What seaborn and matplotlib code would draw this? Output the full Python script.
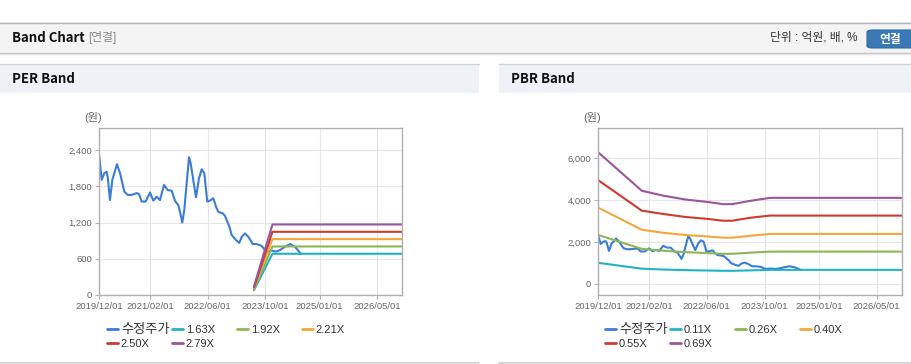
import matplotlib
matplotlib.use("Agg")
import matplotlib.pyplot as plt
import matplotlib.patches as mpatches
import matplotlib.ticker as mticker
import pandas as pd
import seaborn as sns

# ---------------- data ----------------
price_dates = [
    "2019-12-01", "2019-12-21", "2020-01-12", "2020-02-01", "2020-02-10", "2020-02-29",
    "2020-03-20", "2020-04-28", "2020-05-24", "2020-06-29", "2020-07-28", "2020-08-30",
    "2020-10-11", "2020-10-31", "2020-11-23", "2020-12-26", "2021-02-01", "2021-03-01",
    "2021-03-29", "2021-04-26", "2021-05-30", "2021-06-30", "2021-08-03", "2021-08-31",
    "2021-09-28", "2021-10-21", "2021-10-31", "2021-11-17", "2021-12-07", "2021-12-27",
    "2022-01-10", "2022-02-01", "2022-02-24", "2022-03-21", "2022-04-13", "2022-05-05",
    "2022-05-30", "2022-06-22", "2022-07-20", "2022-08-12", "2022-08-31", "2022-10-07",
    "2022-10-27", "2022-12-02", "2022-12-22", "2023-01-28", "2023-02-24", "2023-03-17",
    "2023-04-14", "2023-05-12", "2023-06-17", "2023-07-21", "2023-09-01", "2023-10-08",
    "2023-11-25", "2023-12-31", "2024-02-03", "2024-03-16", "2024-04-27", "2024-06-08",
    "2024-07-12", "2024-07-29",
]
price_values = [
    2300, 1910, 2020, 2045, 1960, 1575,
    1910, 2170, 2020, 1715, 1660, 1660,
    1690, 1675, 1550, 1550, 1700, 1565,
    1630, 1575, 1825, 1740, 1730, 1560,
    1490, 1300, 1200, 1410, 1850, 2285,
    2185, 1905, 1620, 1935, 2085, 2020,
    1550, 1565, 1605, 1465, 1380, 1355,
    1310, 1135, 995, 910, 865, 965,
    1020, 965, 845, 845, 815, 720,
    735, 720, 745, 800, 845, 800,
    720, 680,
]

per_band_dates = ["2023-06-28", "2023-12-01", "2026-11-28"]
per_labels = ["1.63X", "1.92X", "2.21X", "2.50X", "2.79X"]
per_163 = [80, 684, 684]
per_192 = [95, 805, 805]
per_221 = [110, 927, 927]
per_250 = [125, 1048, 1048]
per_279 = [140, 1170, 1170]

pbr_band_dates = ["2019-12-01", "2020-12-01", "2021-06-01", "2021-12-01", "2022-06-01",
                  "2022-10-15", "2023-01-01", "2023-06-01", "2023-11-15", "2026-11-28"]
pbr_labels = ["0.11X", "0.26X", "0.40X", "0.55X", "0.69X"]
pbr_011 = [1010, 730, 690, 660, 645, 630, 630, 650, 675, 675]
pbr_026 = [2340, 1677, 1588, 1520, 1477, 1440, 1440, 1495, 1545, 1545]
pbr_040 = [3640, 2590, 2443, 2338, 2272, 2209, 2209, 2300, 2390, 2390]
pbr_055 = [4950, 3500, 3340, 3200, 3110, 3020, 3020, 3160, 3265, 3265]
pbr_069 = [6280, 4450, 4214, 4033, 3920, 3810, 3810, 3967, 4111, 4111]

x_tick_dates = ["2019-12-01", "2021-02-01", "2022-06-01", "2023-10-01", "2025-01-01", "2026-05-01"]
x_tick_labels = ["2019/12/01", "2021/02/01", "2022/06/01", "2023/10/01", "2025/01/01", "2026/05/01"]
per_yticks = [0, 600, 1200, 1800, 2400]
pbr_yticks = [0, 2000, 4000, 6000]

price_label = "수정주가"
band_colors = ["#22b2c6", "#8db655", "#f3a73a", "#cf3a30", "#9a559e"]
price_color = "#3a7dd6"

# ---------------- style ----------------
sns.set_style("white")
plt.rcParams["font.family"] = ["Liberation Sans", "Noto Sans CJK KR", "DejaVu Sans"]

W, H = 912, 364
fig = plt.figure(figsize=(W / 100, H / 100), dpi=100)
fig.patch.set_facecolor("white")


def fx(x):
    return x / W


def fy(y):
    return 1 - y / H


def rect(x0, y0, x1, y1, color, z=0):
    fig.patches.append(mpatches.Rectangle((fx(x0), fy(y1)), fx(x1) - fx(x0), fy(y0) - fy(y1),
                                          transform=fig.transFigure, facecolor=color,
                                          edgecolor="none", zorder=z))


def hline(x0, x1, y, color, lw=1.0):
    fig.lines.append(plt.Line2D([fx(x0), fx(x1)], [fy(y), fy(y)], transform=fig.transFigure,
                                color=color, lw=lw))


# top header
rect(0, 22, W, 53, "#f4f4f4")
hline(0, W, 22.5, "#b4b4b4")
hline(0, W, 53, "#c4c4c4")
hline(0, W, 54, "#e4e4e4")
fig.text(fx(12), fy(38), "Band Chart", fontsize=9.5, fontweight="bold", color="#111111",
         va="center", ha="left", family=["Noto Sans CJK KR", "DejaVu Sans"])
fig.text(fx(88), fy(38), "[연결]", fontsize=8.5, color="#8a8a8a", va="center", ha="left")
fig.text(fx(770), fy(38), "단위 : 억원, 배, %", fontsize=8.5, color="#333333", va="center", ha="left")
fig.patches.append(mpatches.FancyBboxPatch((fx(867), fy(48)), fx(60), fy(30) - fy(48),
                                           boxstyle="round,pad=0,rounding_size=0.006",
                                           transform=fig.transFigure, facecolor="#3a78b6",
                                           edgecolor="#2e6aa5", lw=0.8))
fig.text(fx(890), fy(39), "연결", fontsize=8.5, fontweight="bold", color="white",
         va="center", ha="center", family=["Noto Sans CJK KR"])

# panel headers
for (px0, px1, title) in [(0, 479, "PER Band"), (499, W, "PBR Band")]:
    rect(px0, 64, px1, 93, "#eef2f7")
    hline(px0, px1, 64, "#d2d2d2")
    hline(px0, px1, 363, "#d0d0d0", lw=1.2)
    fig.text(fx(px0 + 12), fy(79), title, fontsize=9.5, fontweight="bold", color="#111111",
             va="center", ha="left", family=["Noto Sans CJK KR", "DejaVu Sans"])


def setup_axes(ax, ylim, yticks):
    ax.set_xlim(pd.Timestamp("2019-12-01"), pd.Timestamp("2026-11-28"))
    ax.set_ylim(*ylim)
    ax.set_xticks(pd.to_datetime(x_tick_dates))
    ax.set_xticklabels(x_tick_labels)
    ax.set_yticks(yticks)
    ax.yaxis.set_major_formatter(mticker.FuncFormatter(lambda v, p: f"{int(v):,}"))
    ax.grid(True, color="#e6e6e6", lw=0.8)
    ax.set_axisbelow(True)
    for s in ax.spines.values():
        s.set_visible(True)
        s.set_color("#b0b0b0")
        s.set_linewidth(1.0)
    ax.tick_params(axis="both", length=3, width=0.8, color="#b0b0b0", labelsize=6.8,
                   labelcolor="#666666", pad=2, direction="out", bottom=True, left=True)
    ax.set_xlabel("")
    ax.set_ylabel("")


def draw_panel(ax, band_dates, bands, labels, ylim, yticks, leg_x0):
    pdates = pd.to_datetime(price_dates)
    sns.lineplot(x=pdates, y=price_values, ax=ax, color=price_color, lw=1.5,
                 label=price_label, estimator=None, sort=False)
    bdates = pd.to_datetime(band_dates)
    for vals, lab, col in zip(bands, labels, band_colors):
        sns.lineplot(x=bdates, y=vals, ax=ax, color=col, lw=1.5, label=lab,
                     estimator=None, sort=False)
    handles, labs = ax.get_legend_handles_labels()
    if ax.get_legend() is not None:
        ax.get_legend().remove()
    setup_axes(ax, ylim, yticks)
    # legend entries on a fixed 4-column grid, row-major
    for i, (h, lab) in enumerate(zip(handles, labs)):
        row, col = divmod(i, 4)
        leg = fig.legend([h], [lab], loc="center left",
                         bbox_to_anchor=(fx(leg_x0 + 65 * col), fy(330 + 14 * row)),
                         bbox_transform=fig.transFigure, frameon=False,
                         fontsize=(9.5 if lab == price_label else 8),
                         handlelength=(0.85 if lab == price_label else 1.0),
                         handletextpad=0.25, borderpad=0, borderaxespad=0)
        for t in leg.get_texts():
            t.set_color("#333333")
        for l in leg.get_lines():
            l.set_linewidth(2.0)


ax1 = fig.add_axes([fx(99.3), fy(295), fx(402) - fx(99.3), fy(128) - fy(295)])
draw_panel(ax1, per_band_dates, [per_163, per_192, per_221, per_250, per_279], per_labels,
           (0, 2770), per_yticks, 107)
fig.text(fx(84), fy(118), "(원)", fontsize=8, color="#666666", va="center", ha="left")

ax2 = fig.add_axes([fx(598.3), fy(295), fx(901.7) - fx(598.3), fy(128.3) - fy(295)])
draw_panel(ax2, pbr_band_dates, [pbr_011, pbr_026, pbr_040, pbr_055, pbr_069], pbr_labels,
           (-525, 7430), pbr_yticks, 605)
fig.text(fx(583), fy(118), "(원)", fontsize=8, color="#666666", va="center", ha="left")

fig.savefig("out.png", dpi=100)
